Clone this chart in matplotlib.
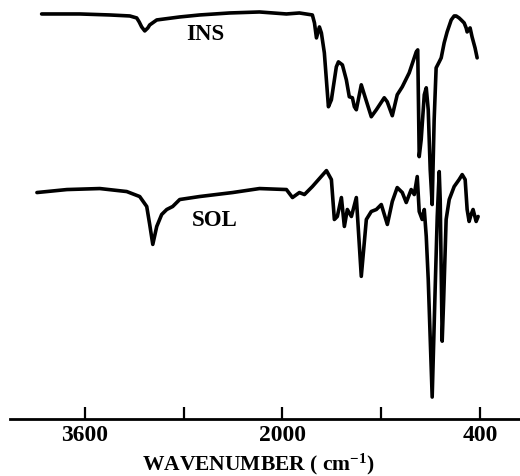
import matplotlib
matplotlib.use("Agg")
import matplotlib.pyplot as plt

# Wavenumber (cm-1) and relative transmittance (arbitrary units)
ins_wn = [3950, 3640, 3398, 3236, 3180, 3160, 3140, 3115, 3090, 3075, 3018, 2832, 2671, 2428, 2186,
          1968, 1863, 1758, 1741, 1725, 1701, 1685, 1661, 1628, 1604, 1564, 1547, 1515,
          1483, 1459, 1434, 1418, 1402, 1362, 1337, 1281, 1240, 1176, 1152, 1111, 1071,
          1030, 974, 917, 905, 893, 877, 852, 836, 820, 804, 788, 772, 756, 731, 715, 691,
          667, 634, 610, 594, 570, 553, 529, 513, 505, 481, 465, 441, 424]
ins_t = [406, 406, 405, 404, 402, 398, 393, 389, 392, 395, 400, 403, 405, 407, 408,
         406, 407, 405, 397, 382, 393, 387, 367, 313, 320, 353, 358, 355,
         340, 323, 322, 313, 310, 335, 325, 303, 310, 322, 318, 304, 325,
         333, 347, 368, 370, 263, 280, 325, 332, 310, 250, 215, 300, 352, 358, 362, 377,
         388, 400, 404, 404, 402, 400, 397, 392, 388, 392, 383, 372, 362]

sol_wn = [3988, 3745, 3479, 3261, 3156, 3099, 3075, 3050, 3018, 2978, 2937, 2889, 2832,
          2671, 2404, 2186, 1968, 1919, 1863, 1822, 1758, 1644, 1604, 1580, 1556, 1523,
          1499, 1475, 1442, 1402, 1362, 1321, 1281, 1240, 1200, 1151, 1111, 1071, 1030,
          998, 958, 933, 909, 893, 869, 852, 836, 820, 788, 764, 747, 731, 723, 707, 695,
          675, 650, 610, 570, 545, 521, 505, 489, 473, 457, 432, 416]
sol_t = [227, 230, 231, 228, 223, 213, 195, 175, 193, 205, 210, 213, 220,
         223, 227, 231, 230, 222, 227, 225, 233, 249, 240, 200, 203, 222,
         193, 210, 203, 222, 143, 200, 208, 210, 215, 195, 218, 232, 227,
         217, 230, 225, 243, 208, 200, 210, 183, 140, 22, 130, 203, 248, 220, 78, 120,
         200, 220, 233, 240, 245, 240, 210, 198, 205, 210, 198, 203]

tick_pos = [3600, 2800, 2000, 1200, 400]
tick_lab = ["3600", "", "2000", "", "400"]

plt.rcParams['mathtext.fontset'] = 'custom'
plt.rcParams['mathtext.rm'] = 'Liberation Serif:bold'
plt.rcParams['mathtext.default'] = 'rm'

fig = plt.figure(figsize=(5.2, 4.76), dpi=100)
ax = fig.add_axes([10/520, 57/476, 510/520, 419/476])
ax.plot(ins_wn, ins_t, color='black', lw=2.6, solid_joinstyle='round', solid_capstyle='round')
ax.plot(sol_wn, sol_t, color='black', lw=2.6, solid_joinstyle='round', solid_capstyle='round')
ax.set_xlim(4206, 77)
ax.set_ylim(0, 420)
for s in ['top', 'right', 'left']:
    ax.spines[s].set_visible(False)
ax.spines['bottom'].set_linewidth(2.0)
ax.set_yticks([])
ax.set_xticks(tick_pos)
ax.set_xticklabels(tick_lab, fontfamily='Liberation Serif', fontweight='bold', fontsize=17)
ax.tick_params(axis='x', direction='in', length=9, width=1.6, pad=4)

ax.text(2622, 385, "INS", fontfamily='Liberation Serif', fontweight='bold', fontsize=16.5,
        ha='center', va='center')
ax.text(2546, 199, "SOL", fontfamily='Liberation Serif', fontweight='bold', fontsize=16.5,
        ha='center', va='center')

fig.text(258/520, 1 - 464/476, "WAVENUMBER ( cm$^{-1}$)", fontfamily='Liberation Serif',
         fontweight='bold', fontsize=15.5, ha='center', va='center')

fig.savefig("out.png", dpi=100, facecolor='white')
